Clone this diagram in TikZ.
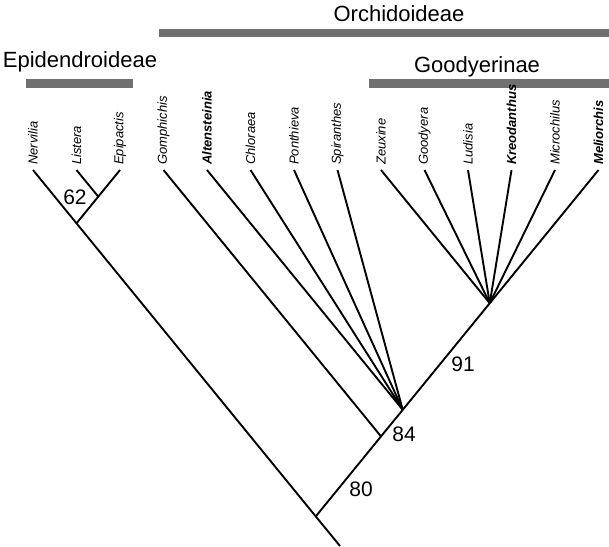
\documentclass[tikz,border=0pt]{standalone}
\usepackage{fontspec}
\setmainfont{Liberation Sans}
\definecolor{bargray}{RGB}{112,112,112}
\begin{document}
\begin{tikzpicture}[x=1pt,y=-1pt,
  branch/.style={line width=1.9pt, line join=miter, line cap=butt},
  bar/.style={fill=bargray, draw=none},
  taxon/.style={rotate=90, anchor=west, inner sep=0pt, font=\fontsize{13}{13}\selectfont\itshape},
  btaxon/.style={taxon, font=\fontsize{13}{13}\selectfont\bfseries\itshape},
  support/.style={inner sep=0pt, font=\fontsize{21}{21}\selectfont},
  clade/.style={inner sep=0pt, anchor=base, font=\fontsize{22}{22}\selectfont}]
\useasboundingbox (0,0) rectangle (609,546);
% group bars and names
\fill[bar] (159,29) rectangle (609,37);
\fill[bar] (26,79) rectangle (133,88);
\fill[bar] (369,79) rectangle (609,88);
\node[clade] (orch) at (399,21) {Orchidoideae};
\node[clade] (epid) at (80,67) {Epidendroideae};
\node[clade] (good) at (477,72) {Goodyerinae};
% tips
\coordinate (t0) at (33,170);
\coordinate (t1) at (76.5,170);
\coordinate (t2) at (120,170);
\coordinate (t3) at (163.5,170);
\coordinate (t4) at (207,170);
\coordinate (t5) at (250.5,170);
\coordinate (t6) at (294,170);
\coordinate (t7) at (337.5,170);
\coordinate (t8) at (381,170);
\coordinate (t9) at (424.5,170);
\coordinate (t10) at (468,170);
\coordinate (t11) at (511.5,170);
\coordinate (t12) at (555,170);
\coordinate (t13) at (598.5,170);
% taxon names
\node[taxon] (l0) at (33,165) {Nervilia};
\node[taxon] (l1) at (76.5,165) {Listera};
\node[taxon] (l2) at (120,165) {Epipactis};
\node[taxon] (l3) at (163.5,165) {Gomphichis};
\node[btaxon] (l4) at (207,165) {Altensteinia};
\node[taxon] (l5) at (250.5,165) {Chloraea};
\node[taxon] (l6) at (294,165) {Ponthieva};
\node[taxon] (l7) at (337.5,165) {Spiranthes};
\node[taxon] (l8) at (381,165) {Zeuxine};
\node[taxon] (l9) at (424.5,165) {Goodyera};
\node[taxon] (l10) at (468,165) {Ludisia};
\node[btaxon] (l11) at (511.5,165) {Kreodanthus};
\node[taxon] (l12) at (555,165) {Microchilus};
\node[btaxon] (l13) at (598.5,165) {Meliorchis};
% internal nodes
\coordinate (nLE) at (98.25,196.6);
\coordinate (n62) at (76.5,223.3);
\coordinate (n80) at (315.75,516.4);
\coordinate (root) at (340,546);
\coordinate (n84) at (381,436.4);
\coordinate (nA) at (402.75,409.8);
\coordinate (n91) at (489.75,303.2);
% branches
\draw[branch] (t0) -- (n62) -- (n80) -- (root);
\draw[branch] (t2) -- (n62);
\draw[branch] (t1) -- (nLE);
\draw[branch] (n80) -- (n84) -- (nA) -- (n91);
\draw[branch] (t3) -- (n84);
\foreach \i in {4,5,6,7} \draw[branch] (t\i) -- (nA);
\foreach \i in {8,9,10,11,12,13} \draw[branch] (t\i) -- (n91);
% support values
\node[support] (s62) at (75,197) {62};
\node[support] (s84) at (404,434) {84};
\node[support] (s80) at (361,489) {80};
\node[support] (s91) at (463,364) {91};
\end{tikzpicture}
\end{document}
